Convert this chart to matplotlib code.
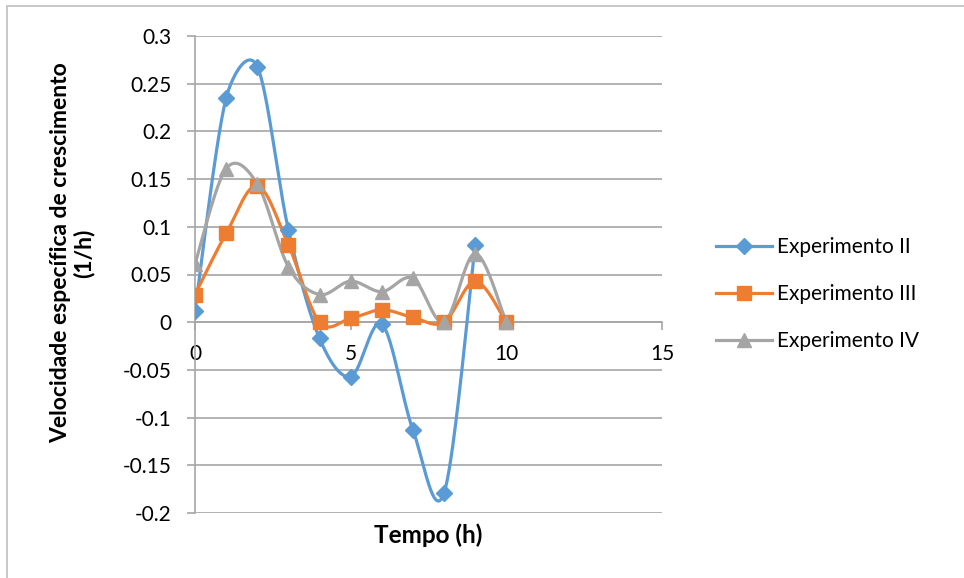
import numpy as np
import matplotlib
matplotlib.use("Agg")
import matplotlib.pyplot as plt
from matplotlib.patches import Rectangle

plt.rcParams['font.family'] = ['Lato', 'DejaVu Sans']

# data
tempo_ii = [0, 1, 2, 3, 4, 5, 6, 7, 8, 9]
exp_ii = [0.012, 0.235, 0.268, 0.097, -0.017, -0.057, -0.002, -0.113, -0.179, 0.081]

tempo_iii = [0, 1, 2, 3, 4, 5, 6, 7, 8, 9, 10]
exp_iii = [0.029, 0.093, 0.143, 0.081, 0.0, 0.004, 0.013, 0.005, 0.0, 0.043, 0.0]

tempo_iv = [0, 1, 2, 3, 4, 5, 6, 7, 8, 9, 10]
exp_iv = [0.061, 0.161, 0.145, 0.058, 0.029, 0.043, 0.032, 0.046, 0.0, 0.072, 0.0]

labels = ["Experimento II", "Experimento III", "Experimento IV"]
colors = ["#5B9BD5", "#ED7D31", "#A5A5A5"]
markers = ["D", "s", "^"]
msizes = [8, 10, 10]

x_ticks = [0, 5, 10, 15]
y_ticks = [-0.2, -0.15, -0.1, -0.05, 0, 0.05, 0.1, 0.15, 0.2, 0.25, 0.3]
y_ticklabels = ["-0.2", "-0.15", "-0.1", "-0.05", "0", "0.05", "0.1", "0.15", "0.2", "0.25", "0.3"]

# pixels per data unit, used so the smoothing works in screen space like Excel
PX_X = (662 - 195) / 15
PX_Y = (513 - 36) / 0.5


def smooth(x, y, n=40):
    # Excel-style smoothed line: bezier segments, control arms clamped
    pts = np.column_stack([np.array(x) * PX_X, np.array(y) * PX_Y]).astype(float)
    out = []
    for i in range(len(pts) - 1):
        p0 = pts[i - 1] if i > 0 else pts[i]
        p1 = pts[i]
        p2 = pts[i + 1]
        p3 = pts[i + 2] if i + 2 < len(pts) else pts[i + 1]
        d12 = np.hypot(*(p2 - p1))
        d02 = np.hypot(*(p2 - p0))
        d13 = np.hypot(*(p3 - p1))
        f1 = 1 / 6 if d02 == 0 else min(1 / 6, d12 / (2 * d02))
        f2 = 1 / 6 if d13 == 0 else min(1 / 6, d12 / (2 * d13))
        c1 = p1 + f1 * (p2 - p0)
        c2 = p2 - f2 * (p3 - p1)
        t = np.linspace(0, 1, n)[:, None]
        seg = ((1 - t) ** 3) * p1 + 3 * ((1 - t) ** 2) * t * c1 + 3 * (1 - t) * t ** 2 * c2 + t ** 3 * p2
        out.append(seg if i == 0 else seg[1:])
    out = np.vstack(out)
    return out[:, 0] / PX_X, out[:, 1] / PX_Y


fig = plt.figure(figsize=(9.64, 5.78), dpi=100)
ax = fig.add_axes([195 / 964, 1 - 513 / 578, (662 - 195) / 964, (513 - 36) / 578])

series = [(tempo_ii, exp_ii), (tempo_iii, exp_iii), (tempo_iv, exp_iv)]
handles = []
for (xs, ys), lab, c, m, ms in zip(series, labels, colors, markers, msizes):
    sx, sy = smooth(xs, ys)
    ax.plot(sx, sy, color=c, lw=2.3, solid_capstyle='round', zorder=3)
    ax.plot(xs, ys, linestyle='none', marker=m, markersize=ms, color=c, zorder=4)
    h, = ax.plot([], [], color=c, lw=2.3, marker=m, markersize=ms, label=lab)
    handles.append(h)

ax.set_xlim(0, 15)
ax.set_ylim(-0.2, 0.3)
ax.set_xticks(x_ticks)
ax.set_yticks(y_ticks)
ax.set_yticklabels(y_ticklabels)

ax.grid(axis='y', color='#A6A6A6', lw=1.2)
ax.set_axisbelow(True)
for s in ['top', 'right']:
    ax.spines[s].set_visible(False)
ax.spines['bottom'].set_position(('data', 0))
ax.spines['bottom'].set_color('#A6A6A6')
ax.spines['left'].set_color('#A6A6A6')
ax.spines['bottom'].set_linewidth(1.2)
ax.spines['left'].set_linewidth(1.2)
ax.tick_params(axis='both', colors='#A6A6A6', labelcolor='black', labelsize=15,
               length=6, width=1.2, direction='out')
ax.tick_params(axis='y', pad=11)
ax.tick_params(axis='x', pad=10)

fig.text(428 / 964, 1 - 535 / 578, "Tempo (h)", ha='center', va='center',
         fontsize=17.5, fontweight='bold')
fig.text(72 / 964, 1 - 253 / 578, "Velocidade específica de crescimento\n(1/h)",
         ha='center', va='center', rotation=90, fontsize=16.5, fontweight='bold',
         linespacing=1.1)

fig.legend(handles=handles, loc='center left', bbox_to_anchor=(716 / 964, 1 - 294 / 578),
           frameon=False, fontsize=15, handlelength=2.7, handletextpad=0.25,
           labelspacing=1.3, borderpad=0, borderaxespad=0)

fig.patches.append(Rectangle((7 / 964, -0.1), 2, 1.1 - 6 / 578, transform=fig.transFigure,
                             fill=False, edgecolor='#BFBFBF', lw=1.2))

fig.savefig("out.png", dpi=100)
